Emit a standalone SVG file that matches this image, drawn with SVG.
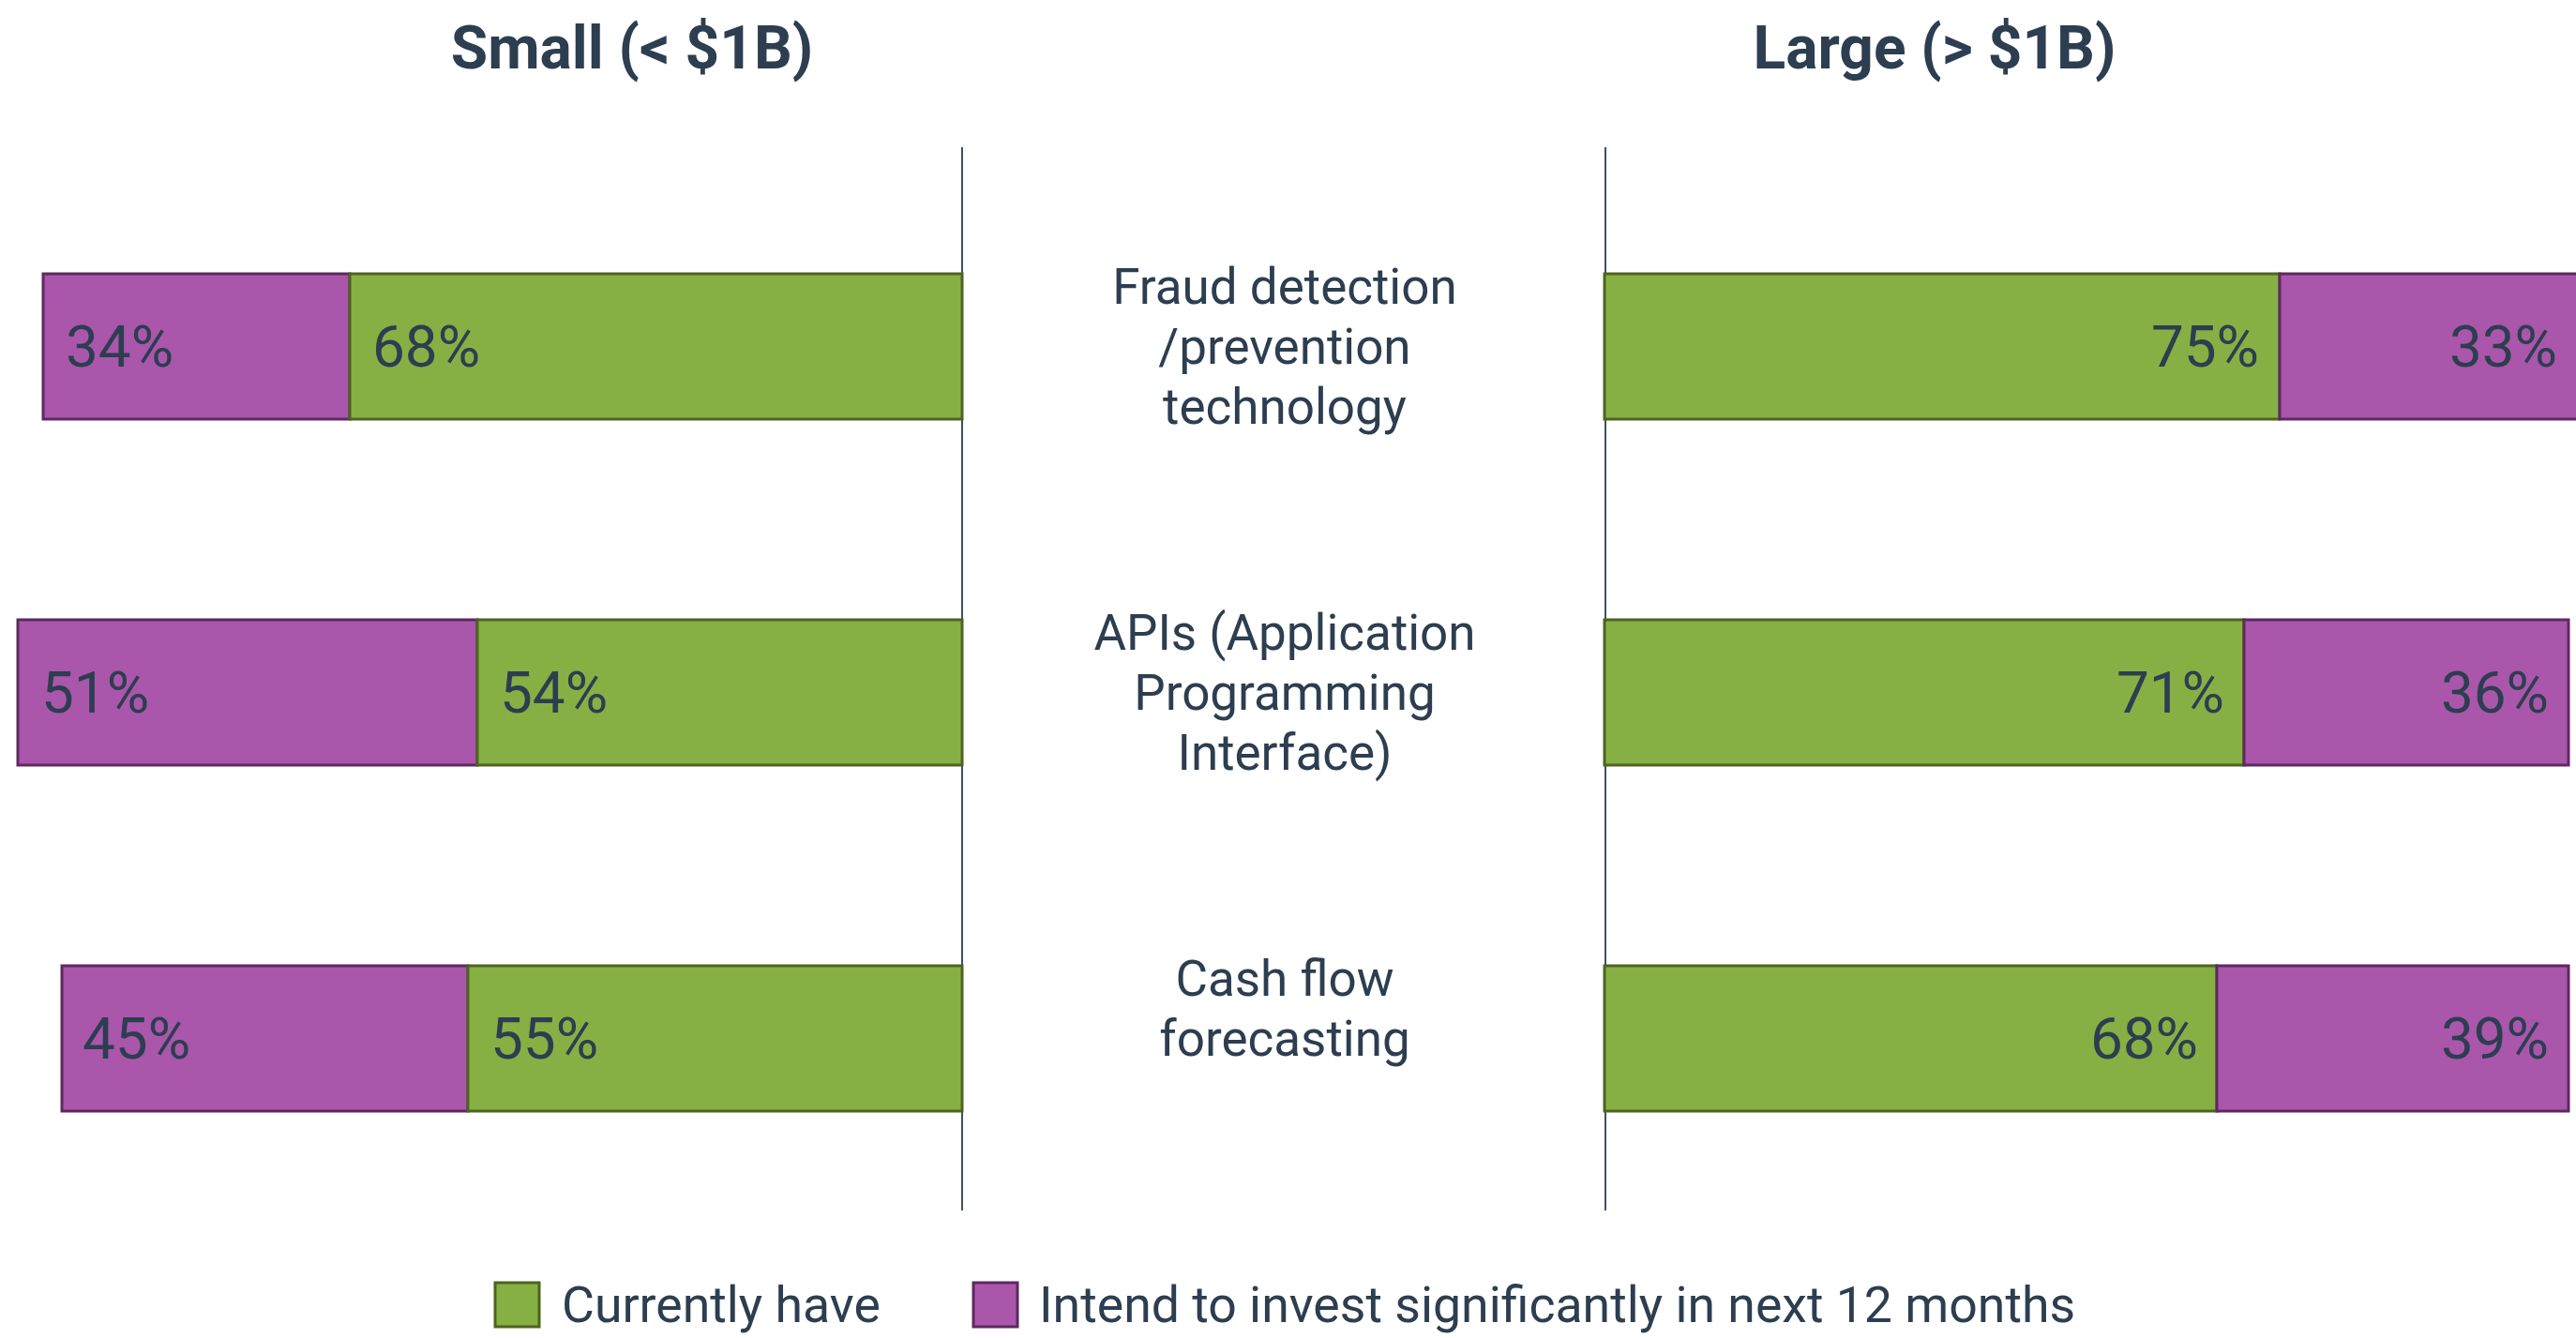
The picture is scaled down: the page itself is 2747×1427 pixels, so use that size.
<svg xmlns="http://www.w3.org/2000/svg" width="2747" height="1427" viewBox="0 0 2747 1427">
<style>
.g{fill:#86b043;stroke:#4c6420;stroke-width:3}
.p{fill:#aa56ab;stroke:#5c2a5e;stroke-width:3}
.t{font-family:Roboto,"Liberation Sans",sans-serif;fill:#2c3e50}
.ttl{font-size:64px;font-weight:bold;text-anchor:middle}
.pct{font-size:62px}
.r{text-anchor:end}
.cat{font-size:53px;text-anchor:middle}
.leg{font-size:53.6px}
.ax{stroke:#3d4f63;stroke-width:2}
</style>
<rect width="2747" height="1427" fill="#fff"/>
<g id="titles">
<text class="t ttl" x="674" y="73">Small (&lt; $1B)</text>
<text class="t ttl" x="2063" y="73">Large (&gt; $1B)</text>
</g>
<g id="axes">
<line class="ax" x1="1026" y1="157" x2="1026" y2="1291"/>
<line class="ax" x1="1712" y1="157" x2="1712" y2="1291"/>
</g>
<g id="small-fraud">
<rect class="p" x="46" y="292" width="327" height="155"/>
<rect class="g" x="373" y="292" width="653" height="155"/>
<text class="t pct" x="70" y="391">34%</text>
<text class="t pct" x="397" y="391">68%</text>
</g>
<g id="small-apis">
<rect class="p" x="19" y="661" width="490" height="155"/>
<rect class="g" x="509" y="661" width="517" height="155"/>
<text class="t pct" x="44" y="760">51%</text>
<text class="t pct" x="533" y="760">54%</text>
</g>
<g id="small-cash">
<rect class="p" x="66" y="1030" width="433" height="155"/>
<rect class="g" x="499" y="1030" width="527" height="155"/>
<text class="t pct" x="88" y="1129">45%</text>
<text class="t pct" x="523" y="1129">55%</text>
</g>
<g id="large-fraud">
<rect class="g" x="1711" y="292" width="720" height="155"/>
<rect class="p" x="2431" y="292" width="318" height="155"/>
<text class="t pct r" x="2409" y="391">75%</text>
<text class="t pct r" x="2727" y="391">33%</text>
</g>
<g id="large-apis">
<rect class="g" x="1711" y="661" width="682" height="155"/>
<rect class="p" x="2393" y="661" width="346" height="155"/>
<text class="t pct r" x="2372" y="760">71%</text>
<text class="t pct r" x="2718" y="760">36%</text>
</g>
<g id="large-cash">
<rect class="g" x="1711" y="1030" width="653" height="155"/>
<rect class="p" x="2364" y="1030" width="375" height="155"/>
<text class="t pct r" x="2344" y="1129">68%</text>
<text class="t pct r" x="2718" y="1129">39%</text>
</g>
<g id="cat-fraud">
<text class="t cat" x="1370" y="324">Fraud detection</text>
<text class="t cat" x="1370" y="388">/prevention</text>
<text class="t cat" x="1370" y="452">technology</text>
</g>
<g id="cat-apis">
<text class="t cat" x="1370" y="693">APIs (Application</text>
<text class="t cat" x="1370" y="757">Programming</text>
<text class="t cat" x="1370" y="821">Interface)</text>
</g>
<g id="cat-cash">
<text class="t cat" x="1370" y="1062">Cash flow</text>
<text class="t cat" x="1370" y="1126">forecasting</text>
</g>
<g id="legend">
<rect class="g" x="528" y="1368" width="47" height="47"/>
<text class="t leg" x="599" y="1410">Currently have</text>
<rect class="p" x="1038" y="1368" width="47" height="47"/>
<text class="t leg" x="1108" y="1410">Intend to invest significantly in next 12 months</text>
</g>
<g id="connectors"/>
</svg>
